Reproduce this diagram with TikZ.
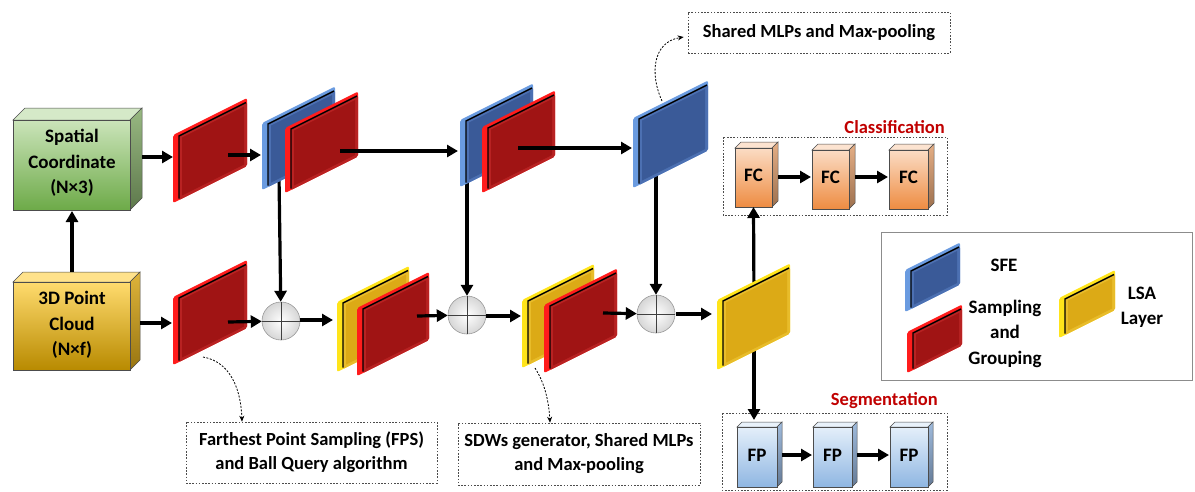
\documentclass[tikz,border=0pt]{standalone}
\usepackage{fontspec}
\setmainfont{Carlito}
\usetikzlibrary{arrows.meta}

% slab colours: edge strip, bevel rim, main face
\definecolor{redstrip}{HTML}{FF1C1C}
\definecolor{redbevel}{HTML}{B82222}
\definecolor{redface}{HTML}{A01414}
\definecolor{bluestrip}{HTML}{6A9BE0}
\definecolor{bluebevel}{HTML}{4C70B2}
\definecolor{blueface}{HTML}{3A5A98}
\definecolor{yelstrip}{HTML}{FFE41A}
\definecolor{yelbevel}{HTML}{E8BC2A}
\definecolor{yelface}{HTML}{DCAA16}
\definecolor{classred}{HTML}{C00000}
% box colours
\definecolor{grtop}{HTML}{CBE4BA}
\definecolor{grbot}{HTML}{6DAA48}
\definecolor{grside}{HTML}{86AC6C}
\definecolor{pctop}{HTML}{FFDB6E}
\definecolor{pcmid}{HTML}{FFC000}
\definecolor{pcbot}{HTML}{B88A00}
\definecolor{pcside}{HTML}{D9A718}
\definecolor{fctop}{HTML}{FBDCC4}
\definecolor{fcbot}{HTML}{EE8C42}
\definecolor{fcside}{HTML}{E0A070}
\definecolor{fptop}{HTML}{E4EFFA}
\definecolor{fpbot}{HTML}{8FB6E2}
\definecolor{fpside}{HTML}{8FAFD6}

% thin slanted slab: x, y (top-left), width, height, colour prefix
\newcommand\drawslab[5]{%
  \begin{scope}[shift={(#1,#2)}, yslant=0.5]
    \fill[#5strip, rounded corners=2] (0,0) rectangle (#3,#4);
    \fill[#5bevel, rounded corners=1.5] (6,4) rectangle (#3,#4);
    \fill[#5face] (9,7) rectangle (#3-3,#4-3);
    \draw[black, line width=1.4] (6,#4-1.5) -- (6,4) -- (#3-1,4);
  \end{scope}}

% box with depth: x1, y1, x2, y2, depth, top colour, bottom colour, side colour
\newcommand\drawcube[8]{%
  \fill[#6!80!white, draw=black!70, line width=0.5] (#1,#2) -- (#1+#5,#2-#5) -- (#3+#5,#2-#5) -- (#3,#2) -- cycle;
  \shade[top color=#8!85!white, bottom color=#8!70!black, draw=black!70, line width=0.5] (#3,#2) -- (#3+#5,#2-#5) -- (#3+#5,#4-#5) -- (#3,#4) -- cycle;
  \shade[top color=#6, bottom color=#7, draw=black!70, line width=0.5] (#1,#2) rectangle (#3,#4);}

\begin{document}
\begin{tikzpicture}[x=1pt,y=-1pt,
  arr/.style={-{Triangle[length=11pt,width=12pt]}, line width=3.2pt},
  note/.style={draw=black!70, dash pattern=on 1.6pt off 1.6pt, line width=0.6pt},
  lead/.style={-{Stealth[length=6pt,width=5pt]}, dash pattern=on 2pt off 1.5pt, line width=0.8pt},
  lbl/.style={font=\bfseries\fontsize{19}{25.5}\selectfont, align=center, inner sep=0},
  txt/.style={font=\bfseries\fontsize{18.5}{24}\selectfont, align=center, inner sep=0},
  plus/.style={circle, minimum size=38pt, inner sep=0},
]
\useasboundingbox (0,0) rectangle (1195,491);

% ---- anchor points of the layers ----
\coordinate (b1bot) at (279,176);
\coordinate (b2bot) at (467,178);
\coordinate (b3bot) at (656,170);
\coordinate (y3top) at (754,300);
\coordinate (y3bot) at (754,340);
\coordinate (r1out) at (228,155);
\coordinate (b1in)  at (261,155);
\coordinate (r2out) at (340,151);
\coordinate (b2in)  at (458,151);
\coordinate (r3out) at (518,148);
\coordinate (b3in)  at (632,148);
\coordinate (r1in)  at (173,157);
\coordinate (r4in)  at (172,323);
\coordinate (r4out) at (228,322);
\coordinate (y1in)  at (333,320);
\coordinate (r5out) at (417,316);
\coordinate (y2in)  at (521,316);
\coordinate (r6out) at (603,313);
\coordinate (y3in)  at (712,314);
\coordinate (b3top) at (662,101);
\coordinate (r4low) at (203,357);
\coordinate (y2low) at (535,368);

% ---- element-wise sum nodes ----
\node[plus] (c1) at (281,321) {};
\node[plus] (c2) at (467,315) {};
\node[plus] (c3) at (656,314) {};

% ---- input boxes ----
\drawcube{13}{120}{130}{210}{12}{grtop}{grbot}{grside}
\node[lbl] (sc) at (72,163) {Spatial\\Coordinate\\(N×3)};
\drawcube{13}{282}{130}{370}{10}{pctop}{pcbot}{pcside}
\shade[top color=pctop, middle color=pcmid, bottom color=pcbot, draw=black!70, line width=0.5] (13,282) rectangle (130,370);
\node[lbl] (pc) at (72,325) {3D Point\\Cloud\\(N×f)};

% ---- classification / segmentation heads ----
\draw[note] (723,137) rectangle (947,215);
\node[txt, text=classred, anchor=east] (cls) at (945,127) {Classification};
\drawcube{735}{148}{772}{207}{6}{fctop}{fcbot}{fcside}
\drawcube{812}{150}{849}{209}{6}{fctop}{fcbot}{fcside}
\drawcube{889}{150}{928}{209}{6}{fctop}{fcbot}{fcside}
\node[lbl] (fc1) at (753.5,175) {FC};
\node[lbl] (fc2) at (830.5,177) {FC};
\node[lbl] (fc3) at (908.5,177) {FC};
\coordinate (fc1b) at (753.5,207);
\coordinate (fc1r) at (778,177);
\coordinate (fc2l) at (811,177);
\coordinate (fc2r) at (855,177);
\coordinate (fc3l) at (888,177);

\draw[note] (722,413) rectangle (947,490);
\node[txt, text=classred, anchor=east] (seg) at (938,401) {Segmentation};
\drawcube{737}{427}{777}{487}{5}{fptop}{fpbot}{fpside}
\drawcube{813}{427}{852}{487}{5}{fptop}{fpbot}{fpside}
\drawcube{890}{427}{928}{487}{5}{fptop}{fpbot}{fpside}
\node[lbl] (fp1) at (757,455) {FP};
\node[lbl] (fp2) at (832.5,455) {FP};
\node[lbl] (fp3) at (909,455) {FP};
\coordinate (fp1t) at (754,420);
\coordinate (fp1r) at (782,455);
\coordinate (fp2l) at (812,455);
\coordinate (fp2r) at (857,455);
\coordinate (fp3l) at (889,455);

% ---- connectors running under the layers ----
\draw[arr] (b1bot) -- (c1);
\draw[arr] (b2bot) -- (c2);
\draw[arr] (b3bot) -- (c3);
\draw[arr] (y3top) -- (fc1b);
\draw[arr] (y3bot) -- (fp1t);

% ---- layers ----
\drawslab{173}{135}{74}{68}{red}
\drawslab{262}{123}{73}{67}{blue}
\drawslab{285}{128}{73}{65}{red}
\drawslab{460}{120}{73}{67}{blue}
\drawslab{482}{127}{73}{66}{red}
\drawslab{633}{118}{75}{70}{blue}
\drawslab{173}{297}{74}{68}{red}
\drawslab{337}{302}{72}{70}{yel}
\drawslab{357}{308}{72}{68}{red}
\drawslab{522}{300}{72}{68}{yel}
\drawslab{544}{305}{73}{68}{red}
\drawslab{717}{300}{73}{70}{yel}

% ---- sum symbols ----
\foreach \c in {c1,c2,c3}{
  \shade[inner color=white, outer color=black!16, draw=black!40, line width=0.6]
    (\c.center) circle (19);
  \draw[black!75, line width=0.6] (\c.north) -- (\c.south) (\c.west) -- (\c.east);
}

% ---- data flow ----
\draw[arr] (pc.north |- 0,272) -- (sc.south |- 0,211);
\draw[arr] (142,157) -- (r1in);
\draw[arr] (r1out) -- (b1in);
\draw[arr] (r2out) -- (b2in);
\draw[arr] (r3out) -- (b3in);
\draw[arr] (140,323) -- (r4in);
\draw[arr] (r4out) -- (c1);
\draw[arr] (c1) ++(19,-1) -- (y1in);
\draw[arr] (r5out) -- (c2);
\draw[arr] (c2) ++(19,1) -- (y2in);
\draw[arr] (r6out) -- (c3);
\draw[arr] (c3) ++(20,0) -- (y3in);
\draw[arr] (fc1r) -- (fc2l);
\draw[arr] (fc2r) -- (fc3l);
\draw[arr] (fp1r) -- (fp2l);
\draw[arr] (fp2r) -- (fp3l);

% ---- annotations ----
\node[note, txt, minimum width=262pt, minimum height=41pt] (n1) at (819,32.5) {Shared MLPs and Max-pooling};
\node[note, txt, minimum width=251pt, minimum height=61pt] (n2) at (311.5,452.5) {Farthest Point Sampling (FPS)\\and Ball Query algorithm};
\node[note, txt, minimum width=242pt, minimum height=62pt] (n3) at (579,454) {SDWs generator, Shared MLPs\\and Max-pooling};
\draw[lead] (b3top) .. controls (650,75) and (652,42) .. ([xshift=-4pt]n1.west |- 0,37);
\draw[lead] (r4low) .. controls (232,362) and (241,392) .. (n2.north -| 242,0);
\draw[lead] (y2low) .. controls (546,385) and (549,405) .. (n3.north -| 550,0);

% ---- legend ----
\draw[black!45, line width=1] (881,232) rectangle (1192,380);
\drawslab{905}{270}{55}{42}{blue}
\drawslab{907}{332}{55}{41}{red}
\drawslab{1059}{298}{56}{40}{yel}
\node[lbl] (lsfe) at (1004,265) {SFE};
\node[lbl] (lsg) at (1005,333.5) {Sampling\\and\\Grouping};
\node[lbl] (llsa) at (1142,307.5) {LSA\\Layer};
\end{tikzpicture}
\end{document}
